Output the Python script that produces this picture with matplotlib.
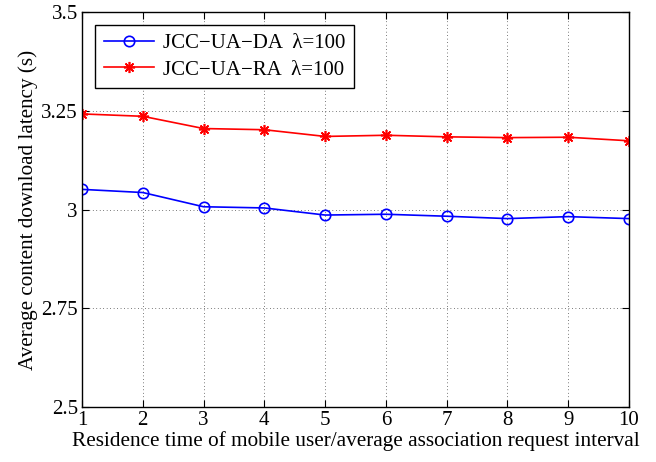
import matplotlib
matplotlib.use("Agg")
import matplotlib.pyplot as plt

x = [1, 2, 3, 4, 5, 6, 7, 8, 9, 10]
da = [3.051, 3.043, 3.007, 3.004, 2.986, 2.988, 2.983, 2.977, 2.982, 2.977]
ra = [3.242, 3.236, 3.205, 3.202, 3.185, 3.188, 3.184, 3.182, 3.183, 3.174]
yticks = [2.5, 2.75, 3, 3.25, 3.5]
ytick_labels = ["2.5", "2.75", "3", "3.25", "3.5"]

plt.rcParams['font.family'] = ['Liberation Serif', 'DejaVu Serif']

fig = plt.figure(figsize=(6.56, 4.62), dpi=100)
ax = fig.add_axes([0.125, 0.119, 0.8338, 0.855])

ax.plot(x, da, color='blue', marker='o', markersize=7.5, markerfacecolor='none',
        markeredgewidth=1.2, linewidth=1.2, label='JCC\u2212UA\u2212DA  \u03bb=100')
ax.plot(x, ra, color='red', marker=(8, 2, 0), markersize=8, markeredgewidth=1.2,
        linewidth=1.2, label='JCC\u2212UA\u2212RA  \u03bb=100')

ax.set_xlim(1, 10)
ax.set_ylim(2.5, 3.5)
ax.set_xticks(x)
ax.set_yticks(yticks)
ax.set_yticklabels(ytick_labels)
ax.tick_params(direction='in', top=True, right=True, labelsize=15, length=5, pad=3)
ax.grid(True, linestyle=(0, (1, 4)), color='black', linewidth=0.5)
for s in ax.spines.values():
    s.set_linewidth(1.0)

ax.set_xlabel('Residence time of mobile user/average association request interval',
              fontsize=15.3, labelpad=1)
ax.set_ylabel('Average content download latency (s)', fontsize=15.2, labelpad=2)

leg = ax.legend(loc='upper left', fontsize=15, frameon=True, fancybox=False,
                edgecolor='black', framealpha=1, borderpad=0.42, handlelength=2.4,
                handletextpad=0.45, labelspacing=0.32, borderaxespad=0,
                bbox_to_anchor=(0.024, 0.967))
leg.get_frame().set_linewidth(1.0)

fig.savefig('out.png', dpi=100)
